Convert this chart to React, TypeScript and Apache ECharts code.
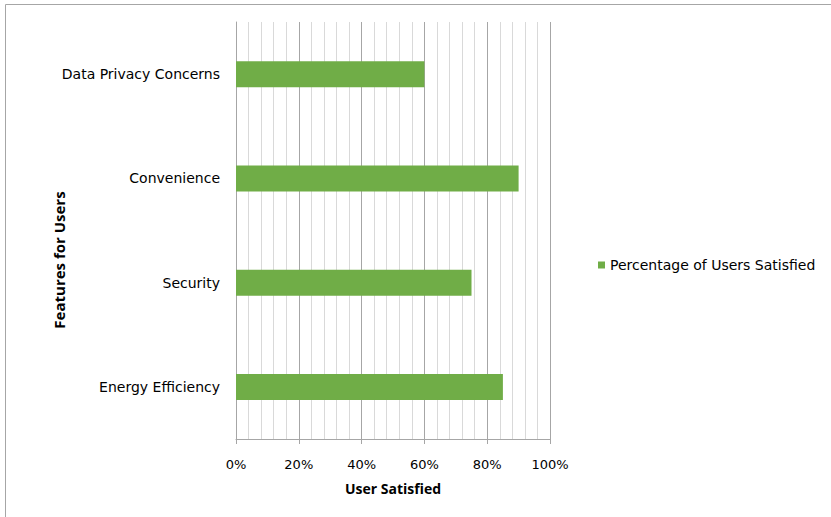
import React, { useEffect, useRef } from "react";
import * as echarts from "echarts";

const categories = ["Energy Efficiency", "Security", "Convenience", "Data Privacy Concerns"];
const satisfied = [0.85, 0.75, 0.9, 0.6];
const seriesName = "Percentage of Users Satisfied";
const xAxisName = "User Satisfied";
const yAxisName = "Features for Users";

export default function App() {
  const ref = useRef<HTMLDivElement>(null);
  useEffect(() => {
    if (!ref.current) return;
    const chart = echarts.init(ref.current, null, { renderer: "svg" });
    const font = "'DejaVu Sans', sans-serif";
    const boldFont = "'Open Sans', sans-serif";
    chart.setOption({
      animation: false,
      textStyle: { fontFamily: font },
      graphic: [
        {
          type: "rect",
          shape: { x: 5.5, y: 4.5, width: 900, height: 600 },
          style: { fill: "none", stroke: "#a6a6a6", lineWidth: 1 },
          silent: true,
        },
        {
          type: "text",
          x: 59,
          y: 260,
          rotation: Math.PI / 2,
          silent: true,
          style: {
            text: yAxisName,
            fontSize: 15,
            fontWeight: "bold",
            fontFamily: boldFont,
            fill: "#000",
            align: "center",
            verticalAlign: "middle",
          },
        },
      ],
      grid: { left: 236, right: 281, top: 22, bottom: 78, containLabel: false },
      legend: {
        show: true,
        data: [seriesName],
        left: 593,
        top: 253,
        orient: "vertical",
        icon: "rect",
        itemWidth: 7,
        itemHeight: 7,
        itemGap: 4,
        textStyle: { fontSize: 14, color: "#000", fontFamily: font },
      },
      xAxis: {
        type: "value",
        min: 0,
        max: 1,
        interval: 0.2,
        name: xAxisName,
        nameLocation: "middle",
        nameGap: 42,
        nameTextStyle: { fontSize: 14, fontWeight: "bold", color: "#000", fontFamily: boldFont },
        axisLine: { show: true, lineStyle: { color: "#a6a6a6" } },
        axisTick: { show: true, length: 5, lineStyle: { color: "#a6a6a6" } },
        axisLabel: {
          formatter: (v: number) => Math.round(v * 100) + "%",
          margin: 19,
          fontSize: 13,
          color: "#000",
          fontFamily: font,
        },
        splitLine: { show: true, lineStyle: { color: "#a6a6a6", width: 1 } },
        minorTick: { show: false, splitNumber: 5 },
        minorSplitLine: { show: true, lineStyle: { color: "#d9d9d9", width: 1 } },
      },
      yAxis: {
        type: "category",
        data: categories,
        axisLine: { show: true, lineStyle: { color: "#a6a6a6" } },
        axisTick: { show: false },
        axisLabel: { margin: 16, fontSize: 14, color: "#000", fontFamily: font },
        splitLine: { show: false },
      },
      series: [
        {
          name: seriesName,
          type: "bar",
          data: satisfied,
          barWidth: 26,
          itemStyle: { color: "#70ad47" },
        },
      ],
    });
    return () => chart.dispose();
  }, []);
  return <div ref={ref} style={{ width: 831, height: 517, position: "absolute", left: 0, top: 0, background: "#fff" }} />;
}
